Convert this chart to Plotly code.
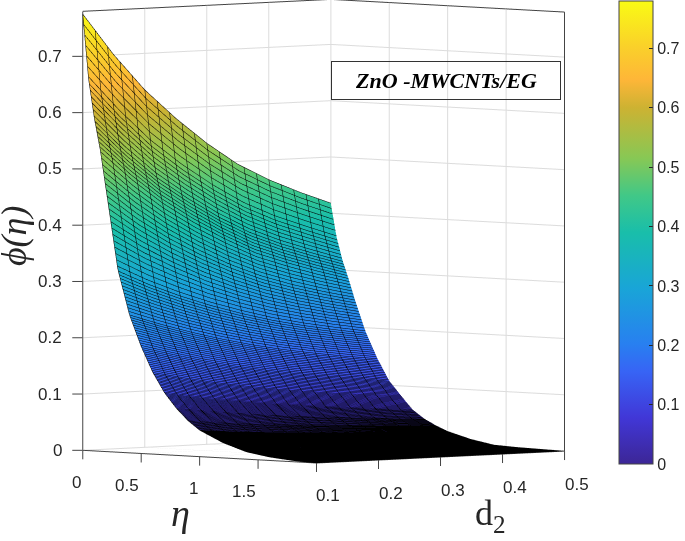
import plotly.graph_objects as go

eta = [0, 0.05, 0.1, 0.15, 0.2, 0.25, 0.3, 0.4, 0.5, 0.6, 0.7, 0.8, 0.9, 1.0, 1.2, 1.4, 1.6, 1.8, 2.0]
d2 = [0.1, 0.15, 0.2, 0.25, 0.3, 0.35, 0.4, 0.45, 0.5]
phi = [
    [0.775, 0.700, 0.635, 0.582, 0.535, 0.495, 0.465, 0.440, 0.418],
    [0.660, 0.598, 0.543, 0.498, 0.459, 0.425, 0.399, 0.378, 0.358],
    [0.590, 0.533, 0.484, 0.444, 0.408, 0.378, 0.355, 0.336, 0.318],
    [0.535, 0.483, 0.438, 0.401, 0.369, 0.341, 0.321, 0.303, 0.287],
    [0.465, 0.420, 0.382, 0.350, 0.322, 0.299, 0.281, 0.266, 0.253],
    [0.395, 0.359, 0.329, 0.302, 0.280, 0.261, 0.246, 0.233, 0.222],
    [0.325, 0.298, 0.275, 0.255, 0.238, 0.223, 0.211, 0.201, 0.192],
    [0.245, 0.226, 0.209, 0.194, 0.181, 0.170, 0.161, 0.153, 0.146],
    [0.190, 0.175, 0.161, 0.149, 0.139, 0.130, 0.123, 0.116, 0.108],
    [0.145, 0.133, 0.122, 0.113, 0.105, 0.098, 0.092, 0.087, 0.083],
    [0.110, 0.100, 0.092, 0.085, 0.079, 0.073, 0.068, 0.063, 0.059],
    [0.084, 0.077, 0.070, 0.064, 0.059, 0.055, 0.051, 0.047, 0.044],
    [0.063, 0.057, 0.052, 0.048, 0.044, 0.041, 0.038, 0.035, 0.033],
    [0.047, 0.042, 0.038, 0.035, 0.032, 0.030, 0.028, 0.026, 0.024],
    [0.027, 0.024, 0.021, 0.019, 0.017, 0.015, 0.014, 0.013, 0.012],
    [0.013, 0.011, 0.010, 0.009, 0.008, 0.007, 0.006, 0.005, 0.004],
    [0.006, 0.005, 0.004, 0.004, 0.003, 0.003, 0.002, 0.002, 0.002],
    [0.002, 0.002, 0.001, 0.001, 0.001, 0.001, 0.001, 0.001, 0.001],
    [0.000, 0.000, 0.000, 0.000, 0.000, 0.000, 0.000, 0.000, 0.000],
]
z_ticks = [0, 0.1, 0.2, 0.3, 0.4, 0.5, 0.6, 0.7]
z_labels = ["0", "0.1", "0.2", "0.3", "0.4", "0.5", "0.6", "0.7"]
eta_ticks = [0, 0.5, 1, 1.5]
eta_labels = ["0", "0.5", "1", "1.5"]
d2_ticks = [0.1, 0.2, 0.3, 0.4, 0.5]
d2_labels = ["0.1", "0.2", "0.3", "0.4", "0.5"]
parula = [
    [0.0, "rgb(60,38,150)"], [0.1, "rgb(65,55,215)"], [0.2, "rgb(55,100,245)"],
    [0.26, "rgb(40,128,240)"], [0.38, "rgb(25,165,215)"], [0.5, "rgb(25,190,170)"],
    [0.58, "rgb(65,200,135)"], [0.66, "rgb(135,200,85)"], [0.77, "rgb(205,178,50)"],
    [0.83, "rgb(254,182,56)"], [0.9, "rgb(250,208,42)"], [1.0, "rgb(249,251,20)"],
]
INK = "#262626"
GRID = "#dcdcdc"
LINE = "#444"
FONT = dict(family="Liberation Sans", size=17, color=INK)

surf = go.Surface(
    x=eta, y=d2, z=[list(r) for r in zip(*phi)],
    colorscale=parula, cmin=0, cmax=0.78,
    lighting=dict(ambient=1, diffuse=0, specular=0, roughness=1, fresnel=0),
    contours=dict(
        x=dict(show=True, start=0, end=2, size=0.008, color="black", width=2, highlight=False),
        y=dict(show=True, start=0.1, end=0.5, size=0.02, color="black", width=2, highlight=False),
        z=dict(highlight=False),
    ),
    hoverinfo="skip",
    colorbar=dict(
        x=623 / 685, xanchor="left", y=1 - 1 / 541, yanchor="top",
        thicknessmode="pixels", thickness=34, lenmode="pixels", len=463,
        tickvals=z_ticks, ticktext=z_labels,
        ticks="inside", ticklen=4, tickcolor=INK,
        outlinecolor=LINE, outlinewidth=1, xpad=0, ypad=0,
        tickfont=dict(family="Liberation Sans", size=16, color=INK),
    ),
)
box = go.Scatter3d(
    x=[0, 0, 2, None, 0, 0], y=[0.1, 0.5, 0.5, None, 0.5, 0.5], z=[0.78, 0.78, 0.78, None, 0, 0.78],
    mode="lines", line=dict(color=LINE, width=2), hoverinfo="skip", showlegend=False,
)
edges = go.Scatter3d(
    x=[0, 0, None, 2, 2], y=[0.1, 0.1, None, 0.5, 0.5], z=[0, 0.78, None, 0, 0.78],
    mode="lines", line=dict(color=LINE, width=2), hoverinfo="skip", showlegend=False,
)


def axis(rng, vals):
    return dict(
        range=rng, tickvals=vals, showticklabels=False, title=dict(text=""), showbackground=False,
        showgrid=True, gridcolor=GRID, gridwidth=2, zeroline=False, showline=True, linecolor=LINE,
        linewidth=2, ticks="", showspikes=False,
    )


def tick(x, y, z, ax, ay):
    return dict(x=x, y=y, z=z, text="\u00a0", showarrow=True, arrowhead=0, arrowwidth=1, arrowcolor=LINE,
                ax=ax, ay=ay, standoff=0, borderpad=0, font=dict(size=1))


def label(x, y, z, text, xanchor, xshift, yshift):
    return dict(x=x, y=y, z=z, text=text, showarrow=False, xanchor=xanchor, yanchor="middle",
                xshift=xshift, yshift=yshift, font=FONT)


scene_notes = []
for v, t in zip(z_ticks, z_labels):
    scene_notes += [tick(0, 0.1, v, -11, 0), label(0, 0.1, v, t, "right", -19, 0)]
for v, t in zip(eta_ticks, eta_labels):
    scene_notes += [tick(v, 0.1, 0, 0, 10), label(v, 0.1, 0, t, "right", 0, -32)]
for v, t in zip(d2_ticks, d2_labels):
    scene_notes += [tick(2, v, 0, 0, 10), label(2, v, 0, t, "center", 12, -33)]

fig = go.Figure([surf, box, edges])
fig.update_layout(
    width=685, height=541, margin=dict(l=0, r=0, t=0, b=0), paper_bgcolor="white",
    scene=dict(
        domain=dict(x=[0, 1], y=[0, 1]),
        xaxis=axis([0, 2], eta_ticks),
        yaxis=axis([0.1, 0.5], d2_ticks),
        zaxis=axis([0, 0.78], z_ticks),
        aspectmode="manual", aspectratio=dict(x=1.26, y=1.26, z=1.625),
        camera=dict(
            projection=dict(type="orthographic"),
            eye=dict(x=1.081, y=-0.933, z=-0.0725),
            center=dict(x=0.043, y=0.045, z=-0.1455),
            up=dict(x=0, y=0, z=1),
        ),
        annotations=scene_notes,
    ),
    annotations=[
        dict(text="<i>ϕ(η)</i>", x=-8 / 685, y=1 - 236 / 541, xref="paper", yref="paper", textangle=-90,
             showarrow=False, font=dict(family="Liberation Serif", size=36, color=INK)),
        dict(text="<i>η</i>", x=170 / 685, y=1 - 536 / 541, xref="paper", yref="paper",
             showarrow=False, font=dict(family="Liberation Serif", size=38, color=INK)),
        dict(text="d<sub>2</sub>", x=511 / 685, y=1 - 540 / 541, xref="paper", yref="paper",
             showarrow=False, font=dict(family="Liberation Serif", size=36, color=INK)),
        dict(text="<b><i>ZnO -MWCNTs/EG</i></b>", x=333 / 685, y=1 - 61 / 541, xref="paper", yref="paper",
             xanchor="left", yanchor="top", showarrow=False, width=228, height=37,
             bordercolor="#333", borderwidth=1, borderpad=0,
             font=dict(family="Liberation Serif", size=22, color="black")),
    ],
)
fig.write_html("out.html", config=dict(displayModeBar=False), post_script="document.body.style.margin='0';")
